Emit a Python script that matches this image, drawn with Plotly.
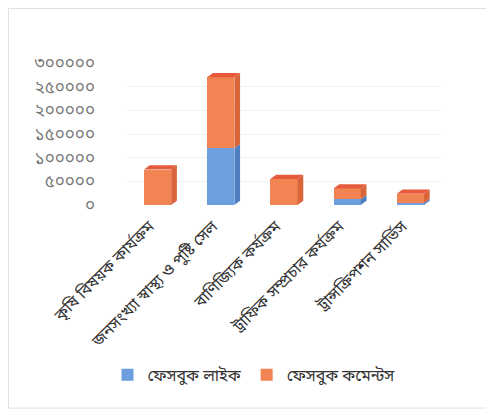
import plotly.graph_objects as go

categories = ["কৃষি বিষয়ক কার্যক্রম", "জনসংখ্যা স্বাস্থ্য ও পুষ্টি সেল", "বাণিজ্যিক কর্যক্রম",
              "ট্রাফিক সম্প্রচার কর্যক্রম", "ট্রান্সক্রিপশন সার্ভিস"]
likes = [0, 120000, 0, 12000, 4000]
comments = [75000, 150000, 55000, 23000, 20000]
y_tickvals = [0, 50000, 100000, 150000, 200000, 250000, 300000]
y_ticktext = ["০", "৫০০০০", "১০০০০০", "১৫০০০০", "২০০০০০", "২৫০০০০", "৩০০০০০"]
series_names = ["ফেসবুক লাইক", "ফেসবুক কমেন্টস"]

BLUE = "#6d9fdf"
BLUE_SIDE = "#4f7fc0"
BLUE_TOP = "#8db5ea"
ORANGE = "#f28352"
ORANGE_SIDE = "#d8643a"
ORANGE_TOP = "#e65a3c"

W = 0.43
DX = 0.09
DY = 9000
FONT = "Noto Sans Bengali, Noto Sans, DejaVu Sans, sans-serif"

x = list(range(len(categories)))
fig = go.Figure()

# 3D side/top faces computed from the data
def face(xs, ys, color):
    fig.add_trace(go.Scatter(x=xs, y=ys, fill="toself", mode="lines",
                             line=dict(width=0, color=color), fillcolor=color,
                             showlegend=False, hoverinfo="skip"))

for i in x:
    segs = [(0, likes[i], BLUE_SIDE), (likes[i], likes[i] + comments[i], ORANGE_SIDE)]
    for b, t, side in segs:
        if t - b <= 0:
            continue
        r = i + W / 2
        face([r, r + DX, r + DX, r, r], [b, b + DY, t + DY, t, b], side)
    total = likes[i] + comments[i]
    topc = ORANGE_TOP if comments[i] > 0 else BLUE_TOP
    l, r = i - W / 2, i + W / 2
    face([l, l + DX, r + DX, r, l], [total, total + DY, total + DY, total, total], topc)

fig.add_trace(go.Bar(x=x, y=likes, name=series_names[0], marker_color=BLUE, width=W,
                     marker_line_width=0))
fig.add_trace(go.Bar(x=x, y=comments, name=series_names[1], marker_color=ORANGE, width=W,
                     marker_line_width=0))

fig.update_layout(
    width=486, height=407,
    barmode="stack",
    paper_bgcolor="white", plot_bgcolor="white",
    margin=dict(l=118, r=52, t=55, b=210),
    font=dict(family=FONT, size=12, color="#444444"),
    xaxis=dict(tickvals=x, ticktext=categories, tickangle=-45, range=[-0.5, 4.5],
               showgrid=False, zeroline=False, showline=False, ticks="",
               ticklabelstandoff=8, ticklabelshift=-8,
               tickfont=dict(size=16, color="#333333")),
    yaxis=dict(tickvals=y_tickvals, ticktext=y_ticktext, range=[0, 300000],
               showgrid=True, gridcolor="#f0f0f0", zeroline=False, showline=False,
               ticks="", ticklabelstandoff=30, tickfont=dict(size=17, color="#777777")),
    legend=dict(orientation="h", x=0.405, xanchor="center", y=-1.197, yanchor="middle",
                font=dict(size=16, color="#333333"), traceorder="normal",
                itemwidth=30, entrywidthmode="pixels"),
    shapes=[dict(type="rect", xref="paper", yref="paper", x0=-0.372, x1=1.142, y0=-1.43, y1=1.384,
                 line=dict(color="#e0e0e0", width=1))],
)
fig.write_html("out.html")
